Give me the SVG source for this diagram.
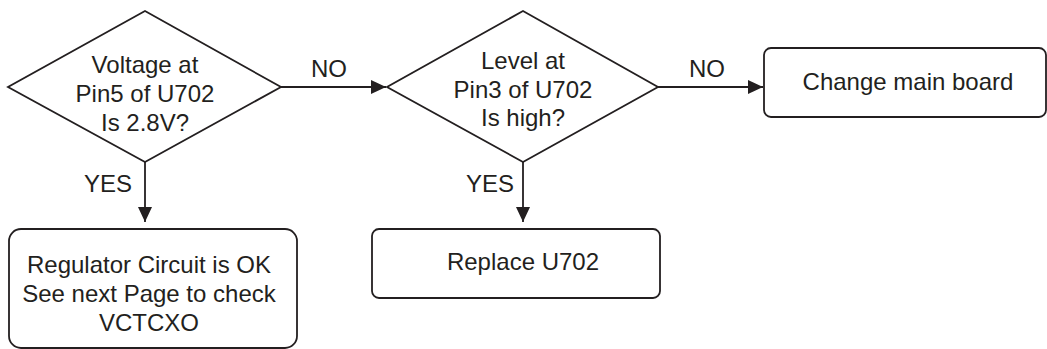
<svg xmlns="http://www.w3.org/2000/svg" width="1047" height="349" viewBox="0 0 1047 349">
<style>
.s{fill:#fff;stroke:#231f20;stroke-width:1.8}
.c{fill:none;stroke:#231f20;stroke-width:1.8}
text{font-family:"Liberation Sans",Arial,sans-serif;font-size:24px;fill:#231f20;text-anchor:middle}
</style>
<defs>
<marker id="ah" markerWidth="15" markerHeight="14" refX="15" refY="7" orient="auto" markerUnits="userSpaceOnUse">
<path d="M0,0 L15,7 L0,14 Z" fill="#231f20"/>
</marker>
</defs>
<g id="connectors">
<line class="c" x1="281" y1="87" x2="386" y2="87" marker-end="url(#ah)"/>
<line class="c" x1="658" y1="87" x2="763" y2="87" marker-end="url(#ah)"/>
<line class="c" x1="145" y1="162" x2="145" y2="222" marker-end="url(#ah)"/>
<line class="c" x1="523" y1="162" x2="523" y2="222" marker-end="url(#ah)"/>
<text x="329" y="77">NO</text>
<text x="707" y="77">NO</text>
<text x="108" y="192">YES</text>
<text x="490" y="192">YES</text>
</g>
<g id="d1">
<polygon class="s" points="145,11 281,87 145,162 8,87"/>
<text x="145" y="73">Voltage at</text>
<text x="145" y="102">Pin5 of U702</text>
<text x="145" y="131">Is 2.8V?</text>
</g>
<g id="d2">
<polygon class="s" points="523,11 658,87 523,162 387,87"/>
<text x="523" y="69">Level at</text>
<text x="523" y="98">Pin3 of U702</text>
<text x="523" y="126">Is high?</text>
</g>
<g id="b1">
<rect class="s" x="764" y="48" width="282" height="69" rx="7"/>
<text x="908" y="90">Change main board</text>
</g>
<g id="b2">
<rect class="s" x="9" y="229" width="288" height="119" rx="12"/>
<text x="149" y="273">Regulator Circuit is OK</text>
<text x="149" y="302">See next Page to check</text>
<text x="149" y="331">VCTCXO</text>
</g>
<g id="b3">
<rect class="s" x="372" y="229" width="288" height="69" rx="7"/>
<text x="523" y="270">Replace U702</text>
</g>
</svg>
